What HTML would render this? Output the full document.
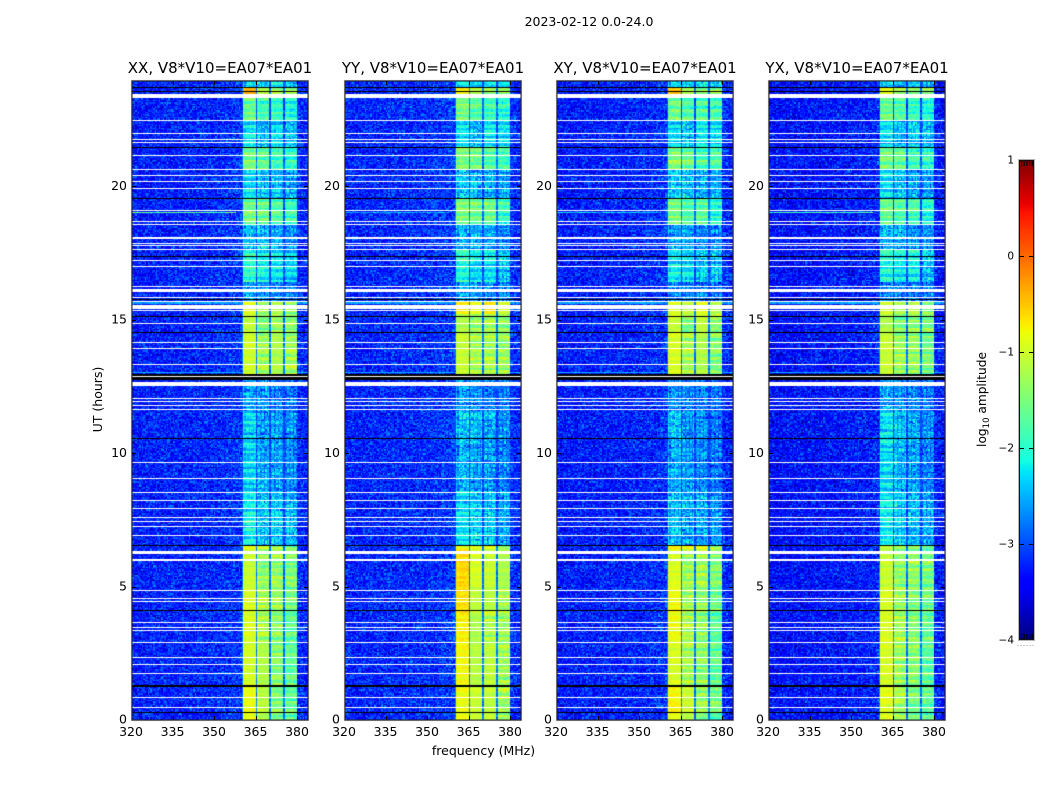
<!DOCTYPE html>
<html lang="en">
<head>
<meta charset="utf-8">
<title>2023-02-12 0.0-24.0</title>
<style>
html,body{margin:0;padding:0;background:#fff;}
#figure{position:relative;width:1050px;height:800px;overflow:hidden;background:#fff;font-family:"DejaVu Sans","Liberation Sans",sans-serif;}
canvas{position:absolute;display:block;}
#overlay{position:absolute;left:0;top:0;}
text{font-family:"DejaVu Sans","Liberation Sans",sans-serif;fill:#000;}
</style>
</head>
<body>
<div id="figure">
<canvas id="heat0" width="178" height="641" style="left:131px;top:80px"></canvas>
<canvas id="heat1" width="178" height="641" style="left:344px;top:80px"></canvas>
<canvas id="heat2" width="178" height="641" style="left:556px;top:80px"></canvas>
<canvas id="heat3" width="178" height="641" style="left:768px;top:80px"></canvas>
<canvas id="cbar" width="16" height="480" style="left:1019px;top:160px"></canvas>
<svg id="overlay" width="1050" height="800" viewBox="0 0 1050 800">
<text x="589" y="26" text-anchor="middle" font-size="12.5">2023-02-12 0.0-24.0</text>
<text x="483.5" y="755" text-anchor="middle" font-size="12.5">frequency (MHz)</text>
<text transform="translate(102,399.5) rotate(-90)" text-anchor="middle" font-size="12.5">UT (hours)</text>
<text transform="translate(986,399.5) rotate(-90)" text-anchor="middle" font-size="12.2">log<tspan font-size="8.5" dy="3">10</tspan><tspan dy="-3"> amplitude</tspan></text>
<g id="axes-layer"></g>
</svg>
</div>
<script>
/* ---- axis data ---- */
var panelTitles = ['XX, V8*V10=EA07*EA01','YY, V8*V10=EA07*EA01','XY, V8*V10=EA07*EA01','YX, V8*V10=EA07*EA01'];
var freqTicks = [320,335,350,365,380];
var hourTicks = [0,5,10,15,20];
var colorTicks = [1,0,-1,-2,-3,-4];

/* ---- spectral windows (MHz) ---- */
var windowStart = [360.5,365.5,370.5,375.5];
var windowEnd = [365,370,375,380];

/* ---- upper edge of each time segment (hours) ---- */
var segmentEnd = [0.3,1.25,2.9,4.05,5.0,6.4,6.55,8.6,10.5,11.6,12.9,14.55,15.2,15.65,16.4,17.6,18.6,19.55,20.6,21.45,22.5,23.4,23.7,24];

/* ---- log10 amplitude per time segment, per window, per correlation ---- */
var xxW1 = [-0.85,-0.85,-1.0,-0.95,-0.95,-1.05,-0.85,-2.15,-2.35,-2.3,-2.6,-1.0,-1.1,-0.85,-2.6,-1.95,-2.5,-1.6,-2.3,-1.5,-2.25,-1.6,-0.4,-2.4];
var xxW2 = [-1.2,-1.15,-1.2,-1.25,-1.3,-1.4,-1.0,-2.45,-2.6,-2.65,-2.7,-1.3,-1.55,-1.25,-2.7,-2.15,-2.45,-1.65,-2.5,-1.65,-2.5,-1.85,-1.2,-2.45];
var xxW3 = [-1.6,-1.55,-1.45,-1.45,-1.35,-1.35,-1.3,-2.4,-2.65,-2.65,-2.8,-1.2,-1.35,-1.15,-2.75,-2.2,-2.6,-1.8,-2.5,-1.85,-2.3,-1.95,-1.4,-2.3];
var xxW4 = [-1.75,-1.7,-1.7,-1.7,-1.6,-1.5,-1.65,-2.55,-2.75,-2.75,-2.85,-1.3,-1.45,-1.35,-2.8,-2.35,-2.7,-1.95,-2.6,-1.95,-2.45,-2.1,-1.4,-2.45];

var yyW1 = [-0.8,-0.85,-0.8,-0.75,-0.65,-0.6,-0.85,-2.3,-2.55,-2.4,-2.65,-1.05,-1.2,-0.75,-2.6,-2.05,-2.55,-1.5,-2.4,-1.5,-2.3,-1.5,-0.75,-2.2];
var yyW2 = [-1.05,-1.05,-1.15,-1.2,-1.1,-0.95,-0.9,-2.4,-2.65,-2.5,-2.75,-1.25,-1.35,-0.9,-2.7,-2.3,-2.6,-1.55,-2.55,-1.6,-2.55,-1.75,-1.15,-2.35];
var yyW3 = [-1.05,-1.1,-1.1,-1.25,-1.15,-1.05,-0.85,-2.45,-2.65,-2.55,-2.8,-1.25,-1.25,-0.7,-2.75,-2.25,-2.65,-1.6,-2.55,-1.75,-2.25,-1.85,-1.4,-2.2];
var yyW4 = [-1.3,-1.3,-1.3,-1.35,-1.25,-1.2,-1.4,-2.6,-2.8,-2.7,-2.85,-1.35,-1.4,-1.05,-2.8,-2.45,-2.75,-1.9,-2.65,-1.85,-2.3,-2.0,-1.4,-2.3];

var xyW1 = [-0.85,-0.8,-0.95,-0.85,-0.8,-0.95,-0.75,-2.45,-2.6,-2.45,-2.7,-0.95,-1.05,-0.9,-2.75,-2.2,-2.6,-1.5,-2.4,-1.45,-2.3,-1.6,-0.5,-2.4];
var xyW2 = [-1.15,-1.05,-1.25,-1.25,-1.25,-1.35,-0.8,-2.6,-2.7,-2.7,-2.8,-1.25,-1.5,-1.05,-2.8,-2.3,-2.6,-1.75,-2.5,-1.6,-2.5,-1.8,-1.2,-2.5];
var xyW3 = [-1.5,-1.4,-1.4,-1.45,-1.35,-1.3,-0.9,-2.6,-2.75,-2.7,-2.8,-1.2,-1.1,-0.85,-2.85,-2.4,-2.7,-1.7,-2.55,-1.8,-2.2,-1.8,-1.5,-2.4];
var xyW4 = [-1.85,-1.6,-1.65,-1.75,-1.6,-1.5,-1.45,-2.7,-2.85,-2.85,-2.9,-1.45,-1.45,-1.15,-2.9,-2.45,-2.75,-2.0,-2.6,-1.75,-2.3,-1.85,-1.4,-2.5];

var yxW1 = [-0.95,-0.9,-0.95,-0.95,-0.95,-1.05,-1.1,-2.2,-2.3,-2.25,-2.6,-1.05,-1.2,-0.95,-2.8,-2.1,-2.5,-1.6,-2.3,-1.55,-2.3,-1.65,-0.85,-2.4];
var yxW2 = [-1.4,-1.25,-1.3,-1.3,-1.3,-1.4,-1.35,-2.4,-2.55,-2.45,-2.75,-1.35,-1.5,-1.2,-2.8,-2.25,-2.6,-1.75,-2.5,-1.65,-2.55,-1.8,-1.3,-2.6];
var yxW3 = [-1.7,-1.55,-1.45,-1.5,-1.45,-1.4,-1.4,-2.5,-2.65,-2.55,-2.8,-1.35,-1.4,-1.1,-2.85,-2.2,-2.7,-1.8,-2.6,-1.85,-2.4,-1.95,-1.5,-2.4];
var yxW4 = [-1.85,-1.7,-1.7,-1.7,-1.55,-1.55,-1.7,-2.65,-2.8,-2.7,-2.85,-1.6,-1.5,-1.4,-2.85,-2.45,-2.75,-2.05,-2.7,-1.95,-2.5,-2.1,-1.45,-2.6];

/* ---- background level ---- */
var panelBackground = [-3.25,-3.22,-3.27,-3.34];
var backgroundFreq = [320,335,350,358,361,380,384];
var backgroundShift = [-0.05,0,0.03,0.1,0.15,0.1,-0.02];
var gapLevel = [-3.05,-2.8];

/* ---- short interference rows: hour start, hour end, level ---- */
var liftStart = [13.0,15.62];
var liftEnd = [13.07,15.72];
var liftLevel = [-2.55,-2.6];

/* ---- narrow RFI trace near 19 h ---- */
var rfiHour = [19.02];
var rfiFreqStart = [320];
var rfiFreqEnd = [358];
var rfiLevel = [-1.7,-2.6,-2.4,-1.9];

/* ---- flagged times ---- */
var whiteRows = [22.46,21.99,21.77,21.65,21.17,20.64,20.42,20.19,19.93,19.10,18.68,18.58,17.85,17.78,17.65,17.23,17.0,16.24,15.83,15.70,15.35,14.87,14.16,13.93,13.33,12.88,12.04,11.94,11.78,11.63,9.66,9.06,8.53,8.23,7.93,7.6,7.45,7.26,6.92,4.86,4.56,4.45,3.66,3.47,3.36,2.91,2.35,2.09,1.75,0.85,0.48];
var whiteBandStart = [23.32,18.02,16.06,15.40,12.52,6.22,5.97];
var whiteBandEnd = [23.47,18.12,16.14,15.55,12.68,6.33,6.05];
var blackRows = [23.71,23.56,19.55,17.39,15.75,15.13,14.53,10.54,6.55,4.11,0.29];
var blackBandStart = [21.43,12.90,12.75,1.24];
var blackBandEnd = [21.49,12.97,12.86,1.3];

var scatterA = [0.3,-0.7,0.9,-0.2,0.5,-0.9,0.1,0.7,-0.4,-0.8,0.6,0.2,-0.5,1,-0.1,-0.6,0.4,0.8,-1,0.2,-0.3,0.6,-0.7,0.9,0,-0.5,0.7,-0.9,0.3,0.5,-0.2,-0.8,1,-0.4,0.1,0.6,-0.6,0.4,-1,0.8,-0.1,0.2,-0.7,0.5,0.9,-0.3,-0.5,0.3,0.7,-0.8,0.1,-0.2,0.6];
var scatterB = [-0.4,0.8,0.1,-0.9,0.5,-0.1,0.7,-0.6,0.3,1,-0.8,0,0.6,-0.3,-0.7,0.9,0.2,-0.5,0.4,-1,0.7,-0.2,0.5,0.1,-0.6,0.8,-0.4,0.3,-0.9,0.6,0.2,-0.1,-0.7,1,-0.3,0.4,-0.5];
var rowStripe = [0.5,-0.8,0.2,0.9,-0.4,-0.1,0.7,-1,0.3,0.6,-0.6,0.1,-0.3,0.8,-0.7,0.4,1,-0.5,-0.2,0.6,-0.9,0.2,0.5,-0.4,0.8,-0.6,0,0.3,-0.8];
var columnStripe = [0.4,-0.3,0.8,0.1,-0.6,0.5,-0.9,0.2,0.7,-0.4,0,0.6,-0.7,0.3,-0.2,0.9,-0.5,0.1,0.5,-0.8,0.3];

/* ---- geometry and scales ---- */
var figureTop = 80;
var panelLeft = [131,344,556,768];
var panelLevels = [[xxW1,xxW2,xxW3,xxW4],[yyW1,yyW2,yyW3,yyW4],[xyW1,xyW2,xyW3,xyW4],[yxW1,yxW2,yxW3,yxW4]];
var PX_PER_MHZ = 2.767, PX_PER_HOUR = 26.68, BOTTOM = 720;
function xScale(mhz){ return (mhz-320)*PX_PER_MHZ; }
function yScale(hours){ return BOTTOM-hours*PX_PER_HOUR; }
function piece(t,pts){
  for(var i=1;i<pts.length;i++){
    if(t<=pts[i][0]){ return pts[i-1][1]+(pts[i][1]-pts[i-1][1])*(t-pts[i-1][0])/(pts[i][0]-pts[i-1][0]); }
  }
  return pts[pts.length-1][1];
}
function jet(t){
  t=Math.max(0,Math.min(1,t));
  var r=piece(t,[[0,0],[0.35,0],[0.66,1],[0.89,1],[1,0.5]]);
  var g=piece(t,[[0,0],[0.125,0],[0.375,1],[0.64,1],[0.91,0],[1,0]]);
  var b=piece(t,[[0,0.5],[0.11,1],[0.34,1],[0.65,0],[1,0]]);
  return 'rgb('+Math.round(r*255)+','+Math.round(g*255)+','+Math.round(b*255)+')';
}
function colorOf(v){ return jet((v+4)/5); }
function segmentOf(h){
  for(var i=0;i<segmentEnd.length;i++){ if(h<segmentEnd[i]) return i; }
  return segmentEnd.length-1;
}
function windowOf(m){
  for(var i=0;i<windowStart.length;i++){ if(m>=windowStart[i]&&m<windowEnd[i]) return i; }
  return -1;
}
function backgroundAt(m){
  for(var i=1;i<backgroundFreq.length;i++){
    if(m<=backgroundFreq[i]){
      var f=(m-backgroundFreq[i-1])/(backgroundFreq[i]-backgroundFreq[i-1]);
      return backgroundShift[i-1]+(backgroundShift[i]-backgroundShift[i-1])*f;
    }
  }
  return 0;
}
function cellScatter(c,r,p){
  var a=(((c+p*131)*73856093)^(r*19349663))>>>0;
  var b=((r*83492791)^((c+p*71)*2971215))>>>0;
  return (scatterA[a%53]+scatterB[b%37])/2;
}

/* ---- heatmaps ---- */
var CHANNEL = 0.5, ROW = 0.05;
function drawPanel(p){
  var ctx=document.getElementById('heat'+p).getContext('2d');
  var cols=Math.round(64/CHANNEL), rows=Math.round(24/ROW);
  for(var r=0;r<rows;r++){
    var h=(r+0.5)*ROW, seg=segmentOf(h);
    var yA=Math.round(yScale(h+ROW/2)-figureTop), yB=Math.round(yScale(h-ROW/2)-figureTop);
    var stripe=rowStripe[(Math.floor(r/2)+p*5)%29];
    for(var c=0;c<cols;c++){
      var m=320+(c+0.5)*CHANNEL;
      var xA=Math.round(xScale(m-CHANNEL/2)), xB=Math.round(xScale(m+CHANNEL/2));
      var w=windowOf(m), v;
      var cell=cellScatter(c,r,p);
      if(w>=0){
        var lv=panelLevels[p][w][seg];
        var strong=lv>-1.25, mid=lv>-2.4;
        var ampCell=strong?0.14:(mid?0.35:0.6);
        var ampRow=strong?0.09:(mid?0.3:0.14);
        var ampCol=strong?0.03:(mid?0.08:0.2);
        v=lv+ampCell*cell+ampRow*stripe+ampCol*columnStripe[c%21];
      }else if(m>360&&m<380){
        v=gapLevel[panelLevels[p][0][seg]>-1.6?1:0]+0.3*cell;
      }else{
        v=panelBackground[p]+backgroundAt(m)+0.62*cell;
        for(var k=0;k<liftStart.length;k++){
          if(h>=liftStart[k]&&h<liftEnd[k]) v=liftLevel[k]+0.25*cell;
        }
        if(Math.abs(h-rfiHour[0])<ROW/2+0.001&&m>=rfiFreqStart[0]&&m<=rfiFreqEnd[0]){
          v=rfiLevel[p]+0.5*cell;
        }
      }
      ctx.fillStyle=colorOf(v);
      ctx.fillRect(xA,yA,xB-xA,yB-yA);
    }
  }
  function rowLine(h,col){
    ctx.fillStyle=col;
    ctx.fillRect(0,Math.round(yScale(h)-figureTop-0.5),178,1);
  }
  function band(a,b,col){
    ctx.fillStyle=col;
    var y0=Math.round(yScale(b)-figureTop), y1=Math.round(yScale(a)-figureTop);
    ctx.fillRect(0,y0,178,Math.max(1,y1-y0));
  }
  whiteRows.forEach(function(h){ rowLine(h,'#fff'); });
  whiteBandStart.forEach(function(a,i){ band(a,whiteBandEnd[i],'#fff'); });
  blackRows.forEach(function(h){ rowLine(h,'#000'); });
  blackBandStart.forEach(function(a,i){ band(a,blackBandEnd[i],'#000'); });
}
for(var p=0;p<4;p++){ drawPanel(p); }

/* ---- colorbar ---- */
(function(){
  var ctx=document.getElementById('cbar').getContext('2d');
  for(var y=0;y<480;y++){
    ctx.fillStyle=colorOf(1-(y+0.5)/480*5);
    ctx.fillRect(0,y,16,1);
  }
})();

/* ---- axes ---- */
var NS='http://www.w3.org/2000/svg';
var layer=document.getElementById('axes-layer');
function svgEl(tag,attrs,parent){
  var e=document.createElementNS(NS,tag);
  for(var a in attrs){ e.setAttribute(a,attrs[a]); }
  (parent||layer).appendChild(e);
  return e;
}
function tickLine(x1,y1,x2,y2,parent){
  var e=svgEl('line',{x1:x1,y1:y1,x2:x2,y2:y2,stroke:'#000','stroke-width':1},parent);
  
  
  return e;
}
panelLeft.forEach(function(left,p){
  var g=svgEl('g',{});
  
  
  var outer=svgEl('rect',{x:left+0.5,y:80.5,width:177,height:640,fill:'none',stroke:'#b4b4b4','stroke-width':1.2},g);
  
  
  var inner=svgEl('rect',{x:left+1,y:81,width:176,height:639,fill:'none',stroke:'#222','stroke-width':1},g);
  
  
  var title=svgEl('text',{x:left+89,y:73,'text-anchor':'middle','font-size':15},g);
  title.textContent=panelTitles[p];
  
  
  freqTicks.forEach(function(f){
    var x=Math.round(left+xScale(f))+0.5;
    if(f>320){
      tickLine(x,720,x,716,g);
      tickLine(x,81,x,85,g);
    }
    var t=svgEl('text',{x:left+xScale(f),y:736,'text-anchor':'middle','font-size':12.5},g);
    t.textContent=String(f);
    
    
  });
  hourTicks.forEach(function(h){
    var y=Math.round(yScale(h))+0.5;
    if(h>0){
      tickLine(left+1,y,left+5,y,g);
      tickLine(left+177,y,left+173,y,g);
    }
    var t=svgEl('text',{x:left-4,y:yScale(h)+3.7,'text-anchor':'end','font-size':12.5},g);
    t.textContent=String(h);
    
    
  });
});
(function(){
  var g=svgEl('g',{});
  
  
  var outer=svgEl('rect',{x:1018.5,y:159.5,width:16,height:481,fill:'none',stroke:'#b4b4b4','stroke-width':1},g);
  
  
  var inner=svgEl('rect',{x:1019.5,y:160.5,width:14,height:479,fill:'none',stroke:'#111','stroke-width':1},g);
  
  
  function cy(v){ return 160+(1-v)/5*480; }
  colorTicks.forEach(function(v){
    var y=Math.round(cy(v))+0.5;
    if(v<1&&v>-4){
      tickLine(1019,y,1024,y,g);
      tickLine(1034,y,1029,y,g);
    }
    var t=svgEl('text',{x:1014,y:cy(v)+3.5,'text-anchor':'end','font-size':10.5},g);
    t.textContent=String(v).replace('-','\u2212');
    
    
  });
  for(var i=0;i<5;i++){
    var x=1021.5+i*2.7;
    tickLine(x,161,x,166,g);
    tickLine(x,639,x,634,g);
  }
  for(var j=0;j<6;j++){
    var d=svgEl('rect',{x:1017.5+j*3,y:645,width:1,height:1,fill:'#999'},g);
    
    
  }
})();
</script>
</body>
</html>
